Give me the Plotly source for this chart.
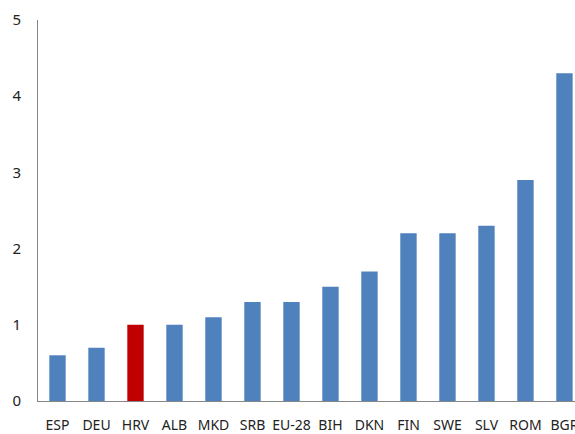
import plotly.graph_objects as go

categories = ["ESP", "DEU", "HRV", "ALB", "MKD", "SRB", "EU-28", "BIH", "DKN", "FIN", "SWE", "SLV", "ROM", "BGR"]
values = [0.6, 0.7, 1.0, 1.0, 1.1, 1.3, 1.3, 1.5, 1.7, 2.2, 2.2, 2.3, 2.9, 4.3]
highlight = "HRV"

colors = ["#C00000" if c == highlight else "#4F81BD" for c in categories]

fig = go.Figure(go.Bar(x=categories, y=values, marker=dict(color=colors, line=dict(width=0)), width=0.42))

fig.update_layout(
    width=575, height=434,
    margin=dict(l=38, r=0, t=20, b=33),
    paper_bgcolor="white", plot_bgcolor="white",
    showlegend=False,
    font=dict(family="Noto Sans", size=14, color="#222222"),
)
fig.update_xaxes(
    range=[-0.5, 13.27], showline=True, linecolor="#868686", linewidth=1,
    showgrid=False, ticks="", ticklabelstandoff=11, automargin=False, tickfont=dict(size=14),
)
fig.update_yaxes(
    range=[0, 5], dtick=1, showline=True, linecolor="#868686", linewidth=1,
    showgrid=False, zeroline=False, ticks="", ticklabelstandoff=13, automargin=False, tickfont=dict(size=15),
)

fig.write_html(
    "out.html",
    config={"displayModeBar": False},
    post_script="document.body.style.margin='0px';document.documentElement.style.overflow='hidden';",
)
